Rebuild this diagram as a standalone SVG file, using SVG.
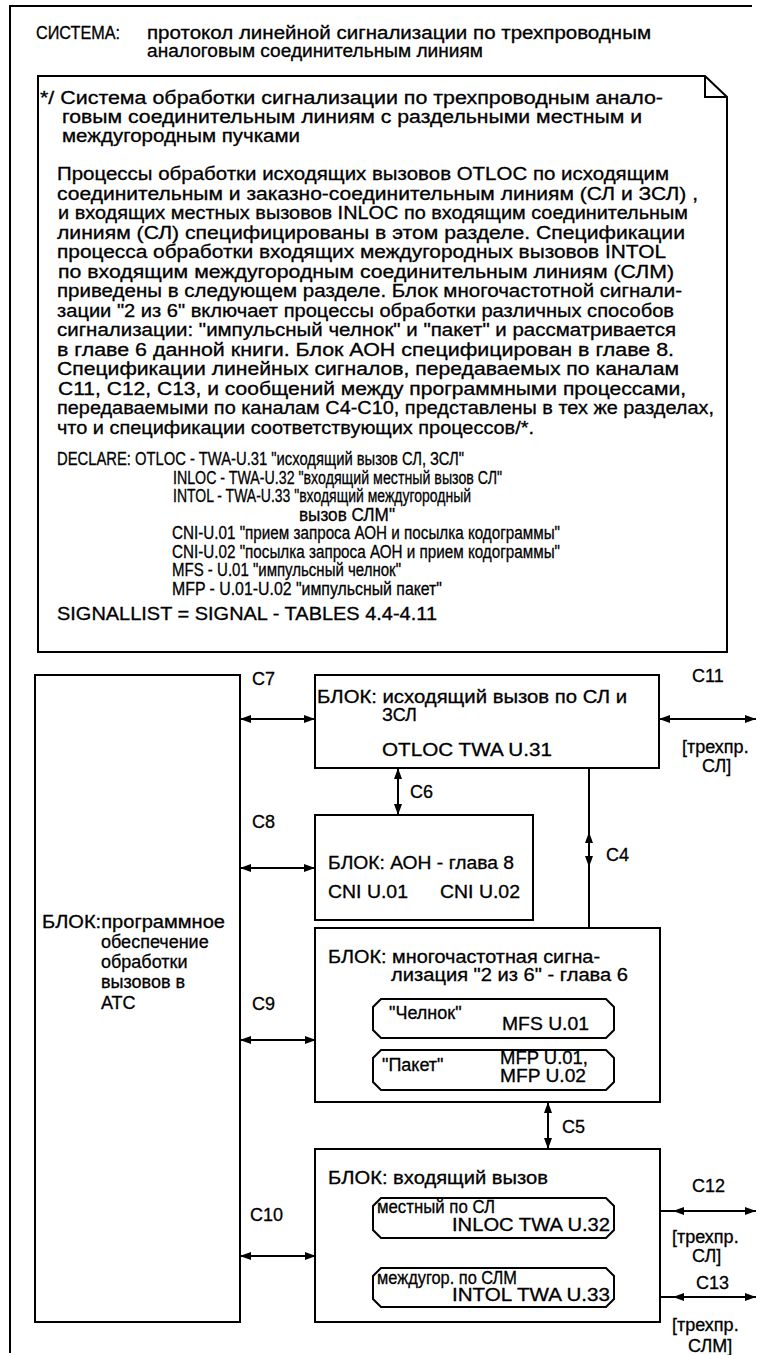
<svg xmlns="http://www.w3.org/2000/svg" width="757" height="1355" viewBox="0 0 757 1355">
<defs>
<style>
.t{font-family:"Liberation Sans",Arial,sans-serif;font-size:18px;fill:#000;stroke:#000;stroke-width:0.3}
.box{fill:#fff;stroke:#000;stroke-width:2}
.ln{fill:none;stroke:#000;stroke-width:2}
.conn{fill:none;stroke:#000;stroke-width:2}
</style>
<marker id="ah" viewBox="0 0 11 8" refX="11" refY="4" markerWidth="11" markerHeight="8" markerUnits="userSpaceOnUse" orient="auto-start-reverse">
<path d="M0,0 L11,4 L0,8 z" fill="#000"/>
</marker>
</defs>
<rect width="757" height="1355" fill="#fff"/>

<g id="frame">
<path class="ln" d="M10,1353 L10,6 L752,6"/>
<text class="t" x="36" y="39" textLength="84" lengthAdjust="spacingAndGlyphs">СИСТЕМА:</text>
<text class="t" x="147" y="39" textLength="504" lengthAdjust="spacingAndGlyphs">протокол линейной сигнализации по трехпроводным</text>
<text class="t" x="147" y="57" textLength="336" lengthAdjust="spacingAndGlyphs">аналоговым соединительным линиям</text>
</g>

<g id="note">
<path class="box" d="M38,76 L705,76 L727,97 L727,652 L38,652 Z"/>
<path class="ln" d="M705,76 L705,97 L727,97"/>
<text class="t" x="40" y="104" textLength="623" lengthAdjust="spacingAndGlyphs">*/ Система обработки сигнализации по  трехпроводным  анало-</text>
<text class="t" x="62" y="123" textLength="580" lengthAdjust="spacingAndGlyphs">говым  соединительным  линиям  с  раздельными  местным и</text>
<text class="t" x="62" y="142" textLength="238" lengthAdjust="spacingAndGlyphs">междугородным пучками</text>
<text class="t" x="57" y="180" textLength="612" lengthAdjust="spacingAndGlyphs">Процессы обработки исходящих  вызовов  OTLOC  по исходящим</text>
<text class="t" x="57" y="199.5" textLength="641" lengthAdjust="spacingAndGlyphs">соединительным и  заказно-соединительным   линиям   (СЛ и ЗСЛ)  ,</text>
<text class="t" x="58" y="219" textLength="630" lengthAdjust="spacingAndGlyphs">и входящих местных вызовов INLOC по входящим соединительным</text>
<text class="t" x="57" y="238.5" textLength="628" lengthAdjust="spacingAndGlyphs">линиям  (СЛ)  специфицированы  в  этом  разделе.  Спецификации</text>
<text class="t" x="57" y="258" textLength="609" lengthAdjust="spacingAndGlyphs">процесса  обработки  входящих  междугородных  вызовов  INTOL</text>
<text class="t" x="58" y="277.5" textLength="616" lengthAdjust="spacingAndGlyphs">по  входящим   междугородным   соединительным  линиям  (СЛМ)</text>
<text class="t" x="57" y="297" textLength="625" lengthAdjust="spacingAndGlyphs">приведены в следующем  разделе.  Блок  многочастотной  сигнали-</text>
<text class="t" x="57" y="316.5" textLength="617" lengthAdjust="spacingAndGlyphs">зации "2 из 6" включает процессы обработки различных  способов</text>
<text class="t" x="57" y="336" textLength="619" lengthAdjust="spacingAndGlyphs">сигнализации: "импульсный челнок" и  "пакет"  и  рассматривается</text>
<text class="t" x="57" y="355.5" textLength="617" lengthAdjust="spacingAndGlyphs">в главе 6  данной  книги.  Блок  АОН  специфицирован  в  главе  8.</text>
<text class="t" x="57" y="375" textLength="622" lengthAdjust="spacingAndGlyphs">Спецификации   линейных   сигналов,  передаваемых  по  каналам</text>
<text class="t" x="58" y="394.5" textLength="628" lengthAdjust="spacingAndGlyphs">С11, С12,  С13,  и  сообщений  между  программными  процессами,</text>
<text class="t" x="57" y="414" textLength="657" lengthAdjust="spacingAndGlyphs">передаваемыми по каналам С4-С10, представлены в тех же разделах,</text>
<text class="t" x="57" y="433.5" textLength="477" lengthAdjust="spacingAndGlyphs">что и спецификации соответствующих процессов/*.</text>
<text class="t" x="57" y="465" textLength="407" lengthAdjust="spacingAndGlyphs">DECLARE: OTLOC - TWA-U.31 "исходящий вызов СЛ, ЗСЛ"</text>
<text class="t" x="173" y="483.5" textLength="329" lengthAdjust="spacingAndGlyphs">INLOC - TWA-U.32 "входящий местный вызов СЛ"</text>
<text class="t" x="173" y="502" textLength="298" lengthAdjust="spacingAndGlyphs">INTOL - TWA-U.33 "входящий междугородный</text>
<text class="t" x="299" y="520.5" textLength="96" lengthAdjust="spacingAndGlyphs">вызов СЛМ"</text>
<text class="t" x="172" y="539" textLength="388" lengthAdjust="spacingAndGlyphs">CNI-U.01 "прием запроса АОН и посылка кодограммы"</text>
<text class="t" x="172" y="557.5" textLength="388" lengthAdjust="spacingAndGlyphs">CNI-U.02 "посылка запроса АОН и прием кодограммы"</text>
<text class="t" x="172" y="576" textLength="229" lengthAdjust="spacingAndGlyphs">MFS - U.01 "импульсный челнок"</text>
<text class="t" x="172" y="594.5" textLength="270" lengthAdjust="spacingAndGlyphs">MFP - U.01-U.02 "импульсный пакет"</text>
<text class="t" x="57" y="620" textLength="380" lengthAdjust="spacingAndGlyphs">SIGNALLIST = SIGNAL - TABLES 4.4-4.11</text>
</g>

<g id="connectors">
<line class="conn" x1="240" y1="719" x2="315" y2="719" marker-start="url(#ah)" marker-end="url(#ah)"/>
<line class="conn" x1="240" y1="868" x2="315" y2="868" marker-start="url(#ah)" marker-end="url(#ah)"/>
<line class="conn" x1="240" y1="1040" x2="316" y2="1040" marker-start="url(#ah)" marker-end="url(#ah)"/>
<line class="conn" x1="240" y1="1256" x2="316" y2="1256" marker-start="url(#ah)" marker-end="url(#ah)"/>
<line class="conn" x1="398" y1="768" x2="398" y2="815" marker-start="url(#ah)" marker-end="url(#ah)"/>
<line class="conn" x1="548" y1="1102" x2="548" y2="1149" marker-start="url(#ah)" marker-end="url(#ah)"/>
<line class="conn" x1="589" y1="768" x2="589" y2="928"/>
<path class="conn" d="M589,852 L589,832" marker-end="url(#ah)"/>
<path class="conn" d="M589,847 L589,867" marker-end="url(#ah)"/>
<line class="conn" x1="659" y1="719" x2="756" y2="719" marker-start="url(#ah)" marker-end="url(#ah)"/>
<line class="conn" x1="614" y1="1211" x2="756" y2="1211" marker-end="url(#ah)"/>
<path class="conn" d="M700,1211 L673,1211" marker-end="url(#ah)"/>
<line class="conn" x1="614" y1="1297" x2="756" y2="1297" marker-end="url(#ah)"/>
<path class="conn" d="M700,1297 L673,1297" marker-end="url(#ah)"/>
<line class="conn" x1="319" y1="1040" x2="372" y2="1020" marker-start="url(#ah)" marker-end="url(#ah)"/>
<line class="conn" x1="319" y1="1040" x2="372" y2="1068" marker-start="url(#ah)" marker-end="url(#ah)"/>
<line class="conn" x1="319" y1="1256" x2="372" y2="1222" marker-start="url(#ah)" marker-end="url(#ah)"/>
<line class="conn" x1="319" y1="1256" x2="372" y2="1285" marker-start="url(#ah)" marker-end="url(#ah)"/>
<text class="t" x="252" y="685">C7</text>
<text class="t" x="252" y="828">C8</text>
<text class="t" x="252" y="1010">C9</text>
<text class="t" x="250" y="1221">C10</text>
<text class="t" x="410" y="798">C6</text>
<text class="t" x="606" y="861">C4</text>
<text class="t" x="562" y="1133">C5</text>
<text class="t" x="692" y="682">C11</text>
<text class="t" x="682" y="753">[трехпр.</text>
<text class="t" x="702" y="772">СЛ]</text>
<text class="t" x="692" y="1192">C12</text>
<text class="t" x="672" y="1243">[трехпр.</text>
<text class="t" x="692" y="1262">СЛ]</text>
<text class="t" x="696" y="1289">C13</text>
<text class="t" x="672" y="1331">[трехпр.</text>
<text class="t" x="688" y="1352">СЛМ]</text>
</g>

<g id="block-software">
<rect class="box" x="35" y="675" width="205" height="647"/>
<text class="t" x="42" y="928" textLength="183" lengthAdjust="spacingAndGlyphs">БЛОК:программное</text>
<text class="t" x="101" y="948">обеспечение</text>
<text class="t" x="101" y="968">обработки</text>
<text class="t" x="101" y="988">вызовов в</text>
<text class="t" x="101" y="1009">АТС</text>
</g>

<g id="block-otloc">
<rect class="box" x="315" y="675" width="344" height="93"/>
<text class="t" x="317" y="703" textLength="310" lengthAdjust="spacingAndGlyphs">БЛОК: исходящий вызов по СЛ и</text>
<text class="t" x="382" y="721">ЗСЛ</text>
<text class="t" x="382" y="756" textLength="170" lengthAdjust="spacingAndGlyphs">OTLOC TWA U.31</text>
</g>

<g id="block-aon">
<rect class="box" x="315" y="815" width="218" height="105"/>
<text class="t" x="328" y="869" textLength="186" lengthAdjust="spacingAndGlyphs">БЛОК: АОН - глава 8</text>
<text class="t" x="328" y="898" textLength="80" lengthAdjust="spacingAndGlyphs">CNI U.01</text>
<text class="t" x="440" y="898" textLength="80" lengthAdjust="spacingAndGlyphs">CNI U.02</text>
</g>

<g id="block-mf">
<rect class="box" x="315" y="928" width="345" height="174"/>
<text class="t" x="328" y="963" textLength="272" lengthAdjust="spacingAndGlyphs">БЛОК: многочастотная сигна-</text>
<text class="t" x="391" y="981" textLength="237" lengthAdjust="spacingAndGlyphs">лизация "2 из 6" - глава 6</text>
</g>

<g id="proc-mfs">
<path class="box" d="M381,999 L606,999 L614,1007 L614,1030 L606,1038 L381,1038 L373,1030 L373,1007 Z"/>
<text class="t" x="389" y="1019">"Челнок"</text>
<text class="t" x="502" y="1030" textLength="87" lengthAdjust="spacingAndGlyphs">MFS U.01</text>
</g>

<g id="proc-mfp">
<path class="box" d="M381,1050 L606,1050 L614,1058 L614,1082 L606,1090 L381,1090 L373,1082 L373,1058 Z"/>
<text class="t" x="382" y="1071">"Пакет"</text>
<text class="t" x="500" y="1064" textLength="88" lengthAdjust="spacingAndGlyphs">MFP U.01,</text>
<text class="t" x="500" y="1082" textLength="86" lengthAdjust="spacingAndGlyphs">MFP U.02</text>
</g>

<g id="block-incoming">
<rect class="box" x="315" y="1149" width="345" height="173"/>
<text class="t" x="328" y="1184" textLength="220" lengthAdjust="spacingAndGlyphs">БЛОК: входящий вызов</text>
</g>

<g id="proc-inloc">
<path class="box" d="M381,1198 L606,1198 L614,1206 L614,1230 L606,1238 L381,1238 L373,1230 L373,1206 Z"/>
<text class="t" x="377" y="1213" textLength="118" lengthAdjust="spacingAndGlyphs">местный по СЛ</text>
<text class="t" x="452" y="1231" textLength="158" lengthAdjust="spacingAndGlyphs">INLOC TWA U.32</text>
</g>

<g id="proc-intol">
<path class="box" d="M381,1268 L606,1268 L614,1276 L614,1299 L606,1307 L381,1307 L373,1299 L373,1276 Z"/>
<text class="t" x="377" y="1284" textLength="140" lengthAdjust="spacingAndGlyphs">междугор. по СЛМ</text>
<text class="t" x="452" y="1301" textLength="158" lengthAdjust="spacingAndGlyphs">INTOL TWA U.33</text>
</g>
</svg>
